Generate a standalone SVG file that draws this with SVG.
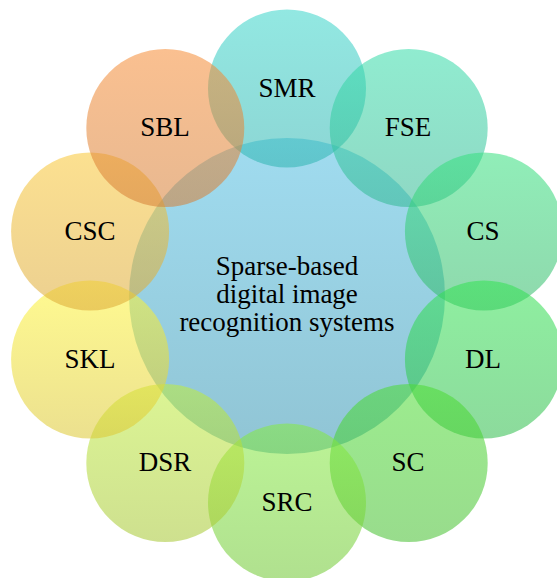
<svg xmlns="http://www.w3.org/2000/svg" width="557" height="578" viewBox="0 0 557 578">
<defs>
<linearGradient id="gC" x1="0" y1="0" x2="0" y2="1"><stop offset="0" stop-color="#52bfe3"/><stop offset="1" stop-color="#3594b1"/></linearGradient>
<linearGradient id="g1" x1="0" y1="0" x2="0" y2="1"><stop offset="0" stop-color="#39d5ca"/><stop offset="1" stop-color="#2eb4b1"/></linearGradient>
<linearGradient id="g2" x1="0" y1="0" x2="0" y2="1"><stop offset="0" stop-color="#35dca9"/><stop offset="1" stop-color="#32b893"/></linearGradient>
<linearGradient id="g3" x1="0" y1="0" x2="0" y2="1"><stop offset="0" stop-color="#35e07e"/><stop offset="1" stop-color="#32b868"/></linearGradient>
<linearGradient id="g4" x1="0" y1="0" x2="0" y2="1"><stop offset="0" stop-color="#32e352"/><stop offset="1" stop-color="#2ebc4b"/></linearGradient>
<linearGradient id="g5" x1="0" y1="0" x2="0" y2="1"><stop offset="0" stop-color="#4bdc32"/><stop offset="1" stop-color="#44bf2e"/></linearGradient>
<linearGradient id="g6" x1="0" y1="0" x2="0" y2="1"><stop offset="0" stop-color="#85eb40"/><stop offset="1" stop-color="#6fc732"/></linearGradient>
<linearGradient id="g7" x1="0" y1="0" x2="0" y2="1"><stop offset="0" stop-color="#bfed3c"/><stop offset="1" stop-color="#a6c732"/></linearGradient>
<linearGradient id="g8" x1="0" y1="0" x2="0" y2="1"><stop offset="0" stop-color="#fff635"/><stop offset="1" stop-color="#dcc732"/></linearGradient>
<linearGradient id="g9" x1="0" y1="0" x2="0" y2="1"><stop offset="0" stop-color="#f9c735"/><stop offset="1" stop-color="#dca935"/></linearGradient>
<linearGradient id="g10" x1="0" y1="0" x2="0" y2="1"><stop offset="0" stop-color="#f68c35"/><stop offset="1" stop-color="#d57e35"/></linearGradient>
</defs>
<style>
.c{fill-opacity:0.55;stroke:none}
.t{font-family:'Liberation Serif',serif;font-size:27px;fill:#000000;text-anchor:middle}
</style>
<rect width="557" height="578" fill="#ffffff"/>
<g id="center"><circle class="c" cx="287" cy="296" r="158" fill="url(#gC)"/>
<text class="t" x="287" y="275">Sparse-based</text>
<text class="t" x="287" y="303">digital image</text>
<text class="t" x="287" y="331">recognition systems</text></g>
<g id="SMR"><circle class="c" cx="287" cy="88.5" r="79" fill="url(#g1)"/><text class="t" x="287" y="96.5">SMR</text></g>
<g id="FSE"><circle class="c" cx="408.7" cy="128" r="79" fill="url(#g2)"/><text class="t" x="408" y="136">FSE</text></g>
<g id="CS"><circle class="c" cx="483.9" cy="231.5" r="79" fill="url(#g3)"/><text class="t" x="483" y="240">CS</text></g>
<g id="DL"><circle class="c" cx="483.9" cy="359.5" r="79" fill="url(#g4)"/><text class="t" x="483" y="367.5">DL</text></g>
<g id="SC"><circle class="c" cx="408.7" cy="463" r="79" fill="url(#g5)"/><text class="t" x="408" y="471">SC</text></g>
<g id="SRC"><circle class="c" cx="287" cy="502.5" r="79" fill="url(#g6)"/><text class="t" x="287" y="510.5">SRC</text></g>
<g id="DSR"><circle class="c" cx="165.3" cy="463" r="79" fill="url(#g7)"/><text class="t" x="165" y="471">DSR</text></g>
<g id="SKL"><circle class="c" cx="90.1" cy="359.5" r="79" fill="url(#g8)"/><text class="t" x="90" y="367.5">SKL</text></g>
<g id="CSC"><circle class="c" cx="90.1" cy="231.5" r="79" fill="url(#g9)"/><text class="t" x="90" y="240">CSC</text></g>
<g id="SBL"><circle class="c" cx="165.3" cy="128" r="79" fill="url(#g10)"/><text class="t" x="165" y="136">SBL</text></g>
</svg>
